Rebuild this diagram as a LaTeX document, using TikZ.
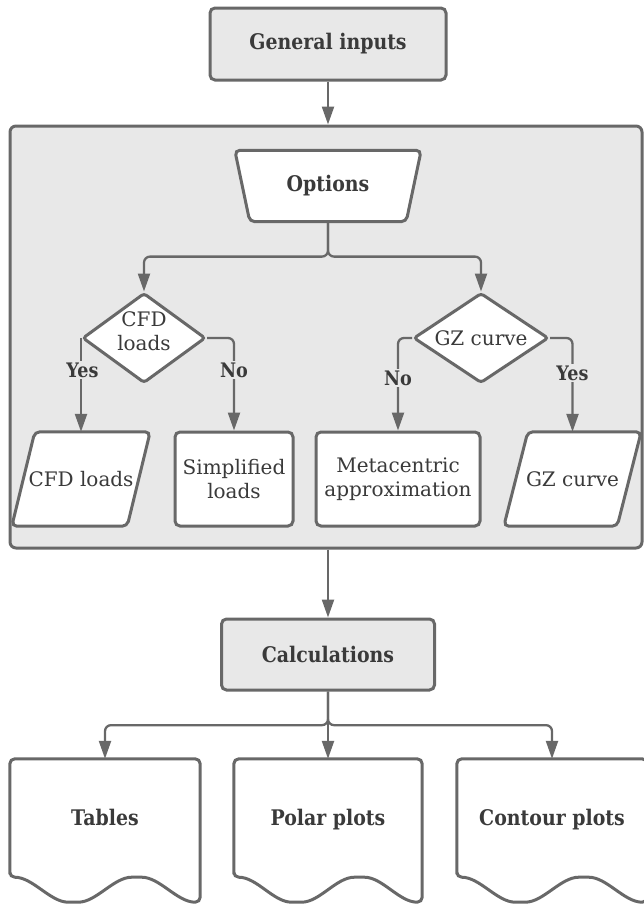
\documentclass[tikz,border=0pt]{standalone}
\usepackage{fontspec}
\setmainfont{DejaVu Serif}
\newfontfamily\condserif{DejaVu Serif}[FakeStretch=0.88]
\usetikzlibrary{arrows.meta,shapes.geometric,backgrounds,calc}
\definecolor{ln}{HTML}{686868}
\definecolor{bg}{HTML}{E8E8E8}
\definecolor{tx}{HTML}{3A3A3A}
\tikzset{
  every node/.style={text=tx, font=\fontsize{20}{24}\selectfont, align=center, inner sep=0pt},
  boxline/.style={draw=ln, line width=3pt},
  graybox/.style={rectangle, boxline, fill=bg, rounded corners=5pt},
  whitebox/.style={rectangle, boxline, fill=white, rounded corners=5pt},
  ghost/.style={rectangle, draw=none, fill=none},
  dia/.style={diamond, boxline, fill=white, rounded corners=3pt, aspect=1.4, minimum height=90pt},
  bold/.style={font=\condserif\bfseries\fontsize{21.5}{24}\selectfont},
  doctext/.style={ghost, bold, minimum height=118pt, text height=19pt, text depth=4pt},
  conn/.style={draw=ln, line width=2.3pt, rounded corners=6pt, -{Triangle[length=18pt,width=12pt]}},
  lbl/.style={fill=bg, font=\condserif\bfseries\fontsize{20}{24}\selectfont, inner sep=2pt},
}
\newcommand\docshape[1]{%
  \draw[boxline, fill=white, rounded corners=5pt] (#1.south west) -- (#1.north west) -- (#1.north east)
    -- ($(#1.south east)+(0,25)$)
    .. controls +(-23,0) and +(23,0) .. ($(#1.south west)!0.6667!(#1.south east)$)
    .. controls +(-23,0) and +(23,0) .. ($(#1.south west)!0.3333!(#1.south east)+(0,25)$)
    .. controls +(-23,0) and +(23,0) .. (#1.south west) -- cycle;}
\begin{document}
\begin{tikzpicture}[x=1pt,y=-1pt]
\useasboundingbox (0,0) rectangle (643,905);
\begin{scope}[on background layer]
  \node[graybox, rounded corners=6pt, minimum width=632pt, minimum height=422pt] (grp) at (326,337) {};
\end{scope}

\node[graybox, bold, minimum width=236pt, minimum height=72pt] (gen) at (328,44) {General inputs};
\node[ghost, bold, minimum width=186pt, minimum height=71pt] (opt) at (328,186) {Options};
\node[dia, minimum width=123pt] (cfd) at (144,338) {};
\node (cfdtext) at (144,331) {CFD\\loads};
\node[dia, minimum width=135pt] (gz) at (481,338) {GZ curve};
\node[ghost, minimum width=138pt, minimum height=94pt] (cfdl) at (81,479) {CFD loads};
\node[whitebox, minimum width=118pt, minimum height=94pt] (simp) at (234,479) {Simplified\\loads};
\node[whitebox, minimum width=164pt, minimum height=94pt] (meta) at (398,479) {Metacentric\\approximation};
\node[ghost, minimum width=137pt, minimum height=94pt] (gzc) at (572.5,479) {GZ curve};
\node[graybox, bold, minimum width=213pt, minimum height=71pt] (calc) at (328,654.5) {Calculations};
\node[doctext, minimum width=190pt] (tab) at (105,818) {Tables};
\node[doctext, minimum width=188pt] (pol) at (328,818) {Polar plots};
\node[doctext, minimum width=190pt] (con) at (552,818) {Contour plots};

\begin{scope}[on background layer]
  \draw[boxline, fill=white, rounded corners=5pt] (opt.north west) -- (opt.north east)
    -- ([xshift=-15pt]opt.south east) -- ([xshift=15pt]opt.south west) -- cycle;
  \draw[boxline, fill=white, rounded corners=5pt] ([xshift=23pt]cfdl.north west) -- (cfdl.north east)
    -- ([xshift=-23pt]cfdl.south east) -- (cfdl.south west) -- cycle;
  \draw[boxline, fill=white, rounded corners=5pt] ([xshift=24pt]gzc.north west) -- (gzc.north east)
    -- ([xshift=-24pt]gzc.south east) -- (gzc.south west) -- cycle;
  \docshape{tab}
  \docshape{pol}
  \docshape{con}
\end{scope}

\coordinate (j1) at ($(opt.south)!0.5!(opt.south |- cfd.north)$);
\draw[conn] (opt.south) -- (j1) -| (cfd.north);
\draw[conn] (opt.south) -- (j1) -| (gz.north);
\draw[conn] (cfd.west) -- (cfd.west |- cfdl.north);
\draw[conn] (cfd.east) -| (simp.north);
\draw[conn] (gz.west) -| (meta.north);
\draw[conn] (gz.east) -| (gzc.north);
\node[lbl] (yes1) at (82.5,370) {Yes};
\node[lbl] (no1) at (234,370) {No};
\node[lbl] (no2) at (398,378) {No};
\node[lbl] (yes2) at (572.5,373) {Yes};

\draw[conn] (gen.south) -- (gen.south |- grp.north);
\draw[conn] (calc.north |- grp.south) -- (calc.north);
\coordinate (j2) at ($(calc.south)!0.5!(pol.north)$);
\draw[conn] (calc.south) -- (j2) -| (tab.north);
\draw[conn] (calc.south) -- (pol.north);
\draw[conn] (calc.south) -- (j2) -| (con.north);
\end{tikzpicture}
\end{document}
